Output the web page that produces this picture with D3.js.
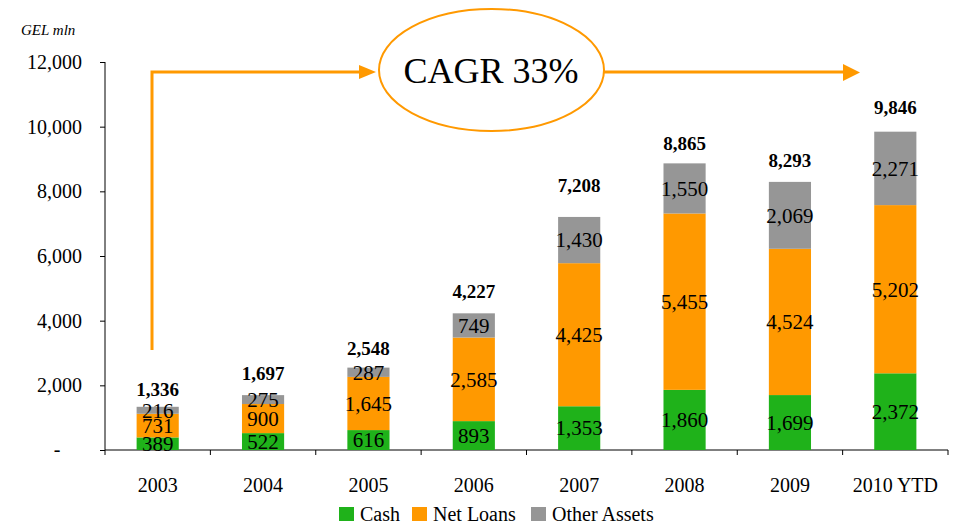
<!DOCTYPE html>
<html><head><meta charset="utf-8">
<script src="https://cdn.jsdelivr.net/npm/d3@7"></script>
<style>body{margin:0;background:#fff}svg{display:block;font-family:"Liberation Serif","Times New Roman",serif}</style>
</head><body><svg id="c" width="953" height="524"></svg>
<script>
const categories = ["2003","2004","2005","2006","2007","2008","2009","2010 YTD"];
const cash = [389,522,616,893,1353,1860,1699,2372];
const netLoans = [731,900,1645,2585,4425,5455,4524,5202];
const otherAssets = [216,275,287,749,1430,1550,2069,2271];
const totals = [1336,1697,2548,4227,7208,8865,8293,9846];
const yTicks = [0,2000,4000,6000,8000,10000,12000];
const seriesNames = ["Cash","Net Loans","Other Assets"];

// layout / style
const colors = ["#1fb21a","#ff9900","#969696"];
const totalLabelGap = [11,15,12.5,15,25,13,15,18]; // px between bar top and total label baseline

const svg = d3.select("#c");
const x = d3.scaleBand().domain(categories).range([105,948]).paddingInner(0.6).paddingOuter(0.3);
const y = d3.scaleLinear().domain([0,12000]).range([450,62]);
const fmt = d3.format(",");

const rows = categories.map((c,i)=>({cat:c, "Cash":cash[i], "Net Loans":netLoans[i], "Other Assets":otherAssets[i]}));
const stacked = d3.stack().keys(seriesNames)(rows);

// y axis
const yAxis = svg.append("g").attr("transform","translate(105,0)")
  .call(d3.axisLeft(y).tickValues(yTicks).tickSize(5).tickPadding(18).tickFormat(d=>d===0?"":fmt(d)));
yAxis.select(".domain").attr("stroke","#000").attr("d","M0,"+y(12000)+"V"+y(0));
yAxis.selectAll("text").attr("font-size",20).attr("font-family","Liberation Serif").attr("fill","#000");
svg.append("text").attr("x",57).attr("y",y(0)+6).attr("text-anchor","middle").attr("font-size",20).text("-");

// x axis
const xAxis = svg.append("g").attr("transform","translate(0,450)")
  .call(d3.axisBottom(x).tickSize(0).tickPadding(28));
xAxis.select(".domain").attr("stroke","#000").attr("d","M105,0H948");
xAxis.selectAll("text").attr("font-size",20).attr("font-family","Liberation Serif").attr("fill","#000");
const step = x.step();
d3.range(categories.length+1).forEach(i=>{
  const xx = 105 + i*step;
  xAxis.append("line").attr("x1",xx).attr("x2",xx).attr("y1",0).attr("y2",5).attr("stroke","#000");
});

// bars
const layers = svg.append("g").selectAll("g").data(stacked).join("g").attr("fill",(d,i)=>colors[i]);
layers.selectAll("rect").data(d=>d).join("rect")
  .attr("x",d=>x(d.data.cat)).attr("width",x.bandwidth())
  .attr("y",d=>y(d[1])).attr("height",d=>y(d[0])-y(d[1]));

// segment labels
stacked.forEach(layer=>{
  svg.append("g").selectAll("text").data(layer).join("text")
    .attr("x",d=>x(d.data.cat)+x.bandwidth()/2)
    .attr("y",d=>(y(d[0])+y(d[1]))/2)
    .attr("dy","0.35em").attr("text-anchor","middle").attr("font-size",21).attr("fill","#000")
    .text(d=>fmt(d[1]-d[0]));
});

// totals
svg.append("g").selectAll("text").data(totals).join("text")
  .attr("x",(d,i)=>x(categories[i])+x.bandwidth()/2)
  .attr("y",(d,i)=>y(d)-totalLabelGap[i])
  .attr("text-anchor","middle").attr("font-size",19).attr("font-weight","bold").attr("fill","#000")
  .text(d=>fmt(d));

// unit label
svg.append("text").attr("x",21).attr("y",35).attr("font-size",15).attr("font-style","italic").text("GEL mln");

// CAGR annotation
const orange = "#ff9900";
svg.append("path").attr("d","M152,350V72H362").attr("fill","none").attr("stroke",orange).attr("stroke-width",3);
svg.append("path").attr("d","M359,65L376,72L359,79Z").attr("fill",orange);
svg.append("path").attr("d","M604,72H845").attr("fill","none").attr("stroke",orange).attr("stroke-width",3);
svg.append("path").attr("d","M843,64L860,72.5L843,81Z").attr("fill",orange);
svg.append("ellipse").attr("cx",491.5).attr("cy",70).attr("rx",112.5).attr("ry",61)
  .attr("fill","#fff").attr("stroke",orange).attr("stroke-width",2);
svg.append("text").attr("x",491).attr("y",83).attr("text-anchor","middle").attr("font-size",36).text("CAGR 33%");

// legend
const legX = [339,412,531];
const leg = svg.append("g");
seriesNames.forEach((n,i)=>{
  leg.append("rect").attr("x",legX[i]).attr("y",507).attr("width",15).attr("height",14).attr("fill",colors[i]);
  leg.append("text").attr("x",legX[i]+21).attr("y",521).attr("font-size",20).text(n);
});
</script></body></html>
